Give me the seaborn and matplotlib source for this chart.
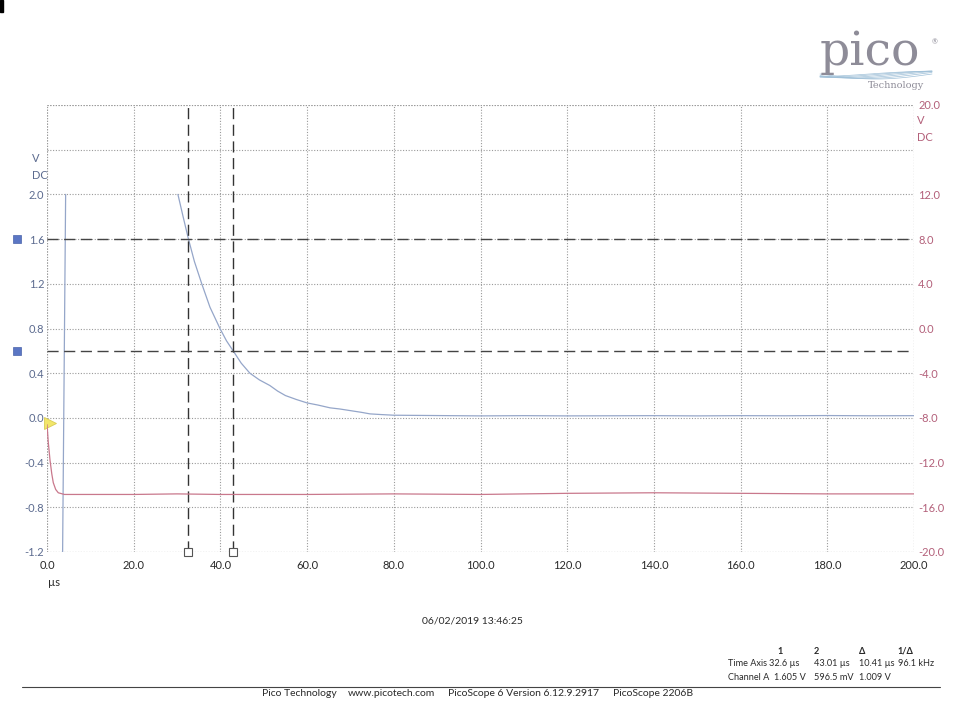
import matplotlib.pyplot as plt
from matplotlib.lines import Line2D
from matplotlib.patches import Rectangle
from matplotlib.transforms import blended_transform_factory
import numpy as np
import pandas as pd
import seaborn as sns

TIME_TICKS = [0, 20, 40, 60, 80, 100, 120, 140, 160, 180, 200]
TIME_LABELS = ['0.0', '20.0', '40.0', '60.0', '80.0', '100.0', '120.0',
               '140.0', '160.0', '180.0', '200.0']
LEFT_TICKS = [-1.2, -0.8, -0.4, 0.0, 0.4, 0.8, 1.2, 1.6, 2.0, 2.4, 2.8]
LEFT_LABELS = ['-1.2', '-0.8', '-0.4', '0.0', '0.4', '0.8', '1.2', '1.6',
               '2.0', '', '']
RIGHT_TICKS = [-20, -16, -12, -8, -4, 0, 4, 8, 12, 16, 20]
RIGHT_LABELS = ['-20.0', '-16.0', '-12.0', '-8.0', '-4.0', '0.0', '4.0',
                '8.0', '12.0', '', '20.0']

# channel A (left scale, V): rising edge, then the decay after leaving clip
CHAN_A_EDGE_T = [3.6, 4.3]
CHAN_A_EDGE_V = [-1.2, 2.0]
CHAN_A_T = [30.2, 31.4, 32.6, 34.0, 35.7, 37.6, 39.9, 41.4, 43.0, 44.8,
            46.8, 49.0, 51.4, 53.2, 55.0, 57.5, 60.0, 62.5, 65.3, 67.5,
            70.0, 72.5, 74.5, 77.0, 80.0, 90.0, 100.0, 110.0, 120.0, 130.0,
            140.0, 150.0, 160.0, 170.0, 180.0, 190.0, 200.0]
CHAN_A_V = [2.0, 1.8, 1.605, 1.4, 1.2, 0.99, 0.8, 0.69, 0.5965, 0.49,
            0.4, 0.34, 0.29, 0.24, 0.2, 0.165, 0.134, 0.115, 0.09, 0.08,
            0.065, 0.05, 0.036, 0.03, 0.024, 0.021, 0.018, 0.02, 0.018,
            0.019, 0.02, 0.018, 0.02, 0.019, 0.021, 0.019, 0.02]

# channel B (right scale, V)
CHAN_B_T = [0.0, 0.3, 0.7, 1.1, 1.45, 2.0, 2.6, 4.0, 20.0, 30.0, 40.0,
            60.0, 80.0, 100.0, 120.0, 140.0, 160.0, 180.0, 200.0]
CHAN_B_V = [-8.6, -10.2, -11.8, -13.0, -13.8, -14.4, -14.7, -14.85,
            -14.85, -14.8, -14.85, -14.85, -14.8, -14.85, -14.75, -14.7,
            -14.75, -14.8, -14.8]

CURSOR_T = [32.6, 43.01]
CURSOR_V = [1.605, 0.5965]

CURSOR_HEAD = ['1', '2', 'Δ', '1/Δ']
CURSOR_TIME = ['Time Axis', '32.6 µs', '43.01 µs', '10.41 µs', '96.1 kHz']
CURSOR_CHAN = ['Channel A', '1.605 V', '596.5 mV', '1.009 V']

BLUE = '#95a6c9'
RED = '#c9788c'
LEFT_COL = '#5c6b8f'
RIGHT_COL = '#b3607a'
GRID = '#9a9a9a'
INK = '#2a2a2a'

W, H = 960, 702


def fx(px):
    return px / W


def fy(py):
    return 1 - py / H


def main():
    sns.set_theme(style='white')
    plt.rcParams['font.family'] = ['Lato', 'DejaVu Sans']

    fig = plt.figure(figsize=(9.6, 7.02), dpi=100)
    ax = fig.add_axes([fx(47), fy(552), fx(914) - fx(47), fy(105) - fy(552)])
    ax2 = ax.twinx()

    a_edge = pd.DataFrame({'t': CHAN_A_EDGE_T, 'v': CHAN_A_EDGE_V})
    a_main = pd.DataFrame({'t': CHAN_A_T, 'v': CHAN_A_V})
    b_main = pd.DataFrame({'t': CHAN_B_T, 'v': CHAN_B_V})

    sns.lineplot(a_edge, x='t', y='v', color=BLUE, lw=0.9, ax=ax)
    sns.lineplot(a_main, x='t', y='v', color=BLUE, lw=0.9, ax=ax)
    sns.lineplot(b_main, x='t', y='v', color=RED, lw=0.9, ax=ax2)

    ax.set_xlim(0, 200)
    ax.set_ylim(-1.2, 2.8)
    ax2.set_ylim(-20, 20)

    ax.set_xticks(TIME_TICKS)
    ax.set_xticklabels(TIME_LABELS)
    ax.set_yticks(LEFT_TICKS)
    ax.set_yticklabels(LEFT_LABELS)
    ax2.set_yticks(RIGHT_TICKS)
    ax2.set_yticklabels(RIGHT_LABELS)
    ax.set_xlabel('')
    ax.set_ylabel('')
    ax2.set_ylabel('')

    ax.tick_params(axis='x', length=0, pad=6, labelsize=8, labelcolor=INK)
    ax.tick_params(axis='y', length=0, pad=2, labelsize=8, labelcolor=LEFT_COL)
    ax2.tick_params(axis='y', length=0, pad=3, labelsize=8,
                    labelcolor=RIGHT_COL)

    ax.grid(True, color=GRID, ls=(0, (1, 1.5)), lw=0.8)
    ax2.grid(False)
    for a in (ax, ax2):
        for s in a.spines.values():
            s.set_visible(False)
    # the outer frame is dotted like the grid
    for x in (0, 200):
        ax.axvline(x, color=GRID, ls=(0, (1, 1.5)), lw=0.8, zorder=0)
    for y in (-1.2, 2.8):
        ax.axhline(y, color=GRID, ls=(0, (1, 1.5)), lw=0.8, zorder=0)

    # cursors
    for t in CURSOR_T:
        ax.axvline(t, color='#333333', ls=(0, (8, 4)), lw=1.0, zorder=3)
    for v in CURSOR_V:
        ax.axhline(v, color='#444444', ls=(0, (8, 4)), lw=1.0, zorder=3)
    ax.plot(CURSOR_T, [-1.2] * 2, ls='none', marker='s', ms=5.5, mfc='white',
            mec='#555555', mew=0.8, clip_on=False, zorder=5)
    side = blended_transform_factory(ax.transAxes, ax.transData)
    ax.plot([-0.0346] * 2, CURSOR_V, ls='none', marker='s', ms=6,
            mfc='#5b76c4', mec='#4a63aa', mew=0.5, transform=side,
            clip_on=False, zorder=5)
    ax.plot([0.004], [-0.045], ls='none', marker='>', ms=9, mfc='#f2e66a',
            mec='#d9cc55', mew=0.6, transform=side, clip_on=False, zorder=6)

    # unit labels
    fig.text(fx(32), fy(167), 'V\nDC', ha='left', va='center', fontsize=8,
             color=LEFT_COL, linespacing=1.6)
    fig.text(fx(917), fy(129), 'V\nDC', ha='left', va='center', fontsize=8,
             color=RIGHT_COL, linespacing=1.6)
    fig.text(fx(48), fy(583), 'µs', ha='left', va='center', fontsize=8,
             color=INK)

    fig.text(fx(472), fy(621), '06/02/2019 13:46:25', ha='center',
             va='center', fontsize=7.5, color=INK)

    # cursor readout table
    for label, x in zip(CURSOR_HEAD, [777, 814, 859, 897]):
        fig.text(fx(x), fy(651), label, ha='left', va='center', fontsize=6.6,
                 weight='bold', color=INK)
    for label, x in zip(CURSOR_TIME, [728, 769, 814, 859, 898]):
        fig.text(fx(x), fy(664), label, ha='left', va='center', fontsize=6.6,
                 color=INK)
    for label, x in zip(CURSOR_CHAN, [728, 774, 814, 859]):
        fig.text(fx(x), fy(678), label, ha='left', va='center', fontsize=6.6,
                 color=INK)

    fig.add_artist(Line2D([fx(22), fx(940)], [fy(687), fy(687)],
                          color='#444444', lw=0.8))
    footer = ['Pico Technology', 'www.picotech.com',
              'PicoScope 6 Version 6.12.9.2917', 'PicoScope 2206B']
    for label, x in zip(footer, [262, 348, 448, 613]):
        fig.text(fx(x), fy(694), label, ha='left', va='center', fontsize=7.5,
                 color=INK)

    # logo
    fig.text(fx(870), fy(52), 'pico', ha='center', va='center', fontsize=34,
             family='DejaVu Serif', color='#8e8c98')
    fig.text(fx(935), fy(42), '®', ha='center', va='center', fontsize=5,
             color='#8e8c98')
    fig.text(fx(896), fy(86), 'Technology', ha='center', va='center',
             fontsize=7, family='DejaVu Serif', color='#8e8c98')
    xs = np.linspace(820, 932, 60)
    for k in range(6):
        ph = k * 0.35
        ys = 74 + 5 * np.sin((xs - 820) / 112 * np.pi + ph) * (1 - k * 0.1)
        fig.add_artist(Line2D(fx(xs), fy(ys), color='#9fc0d8', lw=0.5))

    fig.add_artist(Rectangle((0, fy(12)), fx(3), fy(0) - fy(12),
                             color='black', transform=fig.transFigure))

    fig.savefig('out.png', dpi=100)


if __name__ == '__main__':
    main()
